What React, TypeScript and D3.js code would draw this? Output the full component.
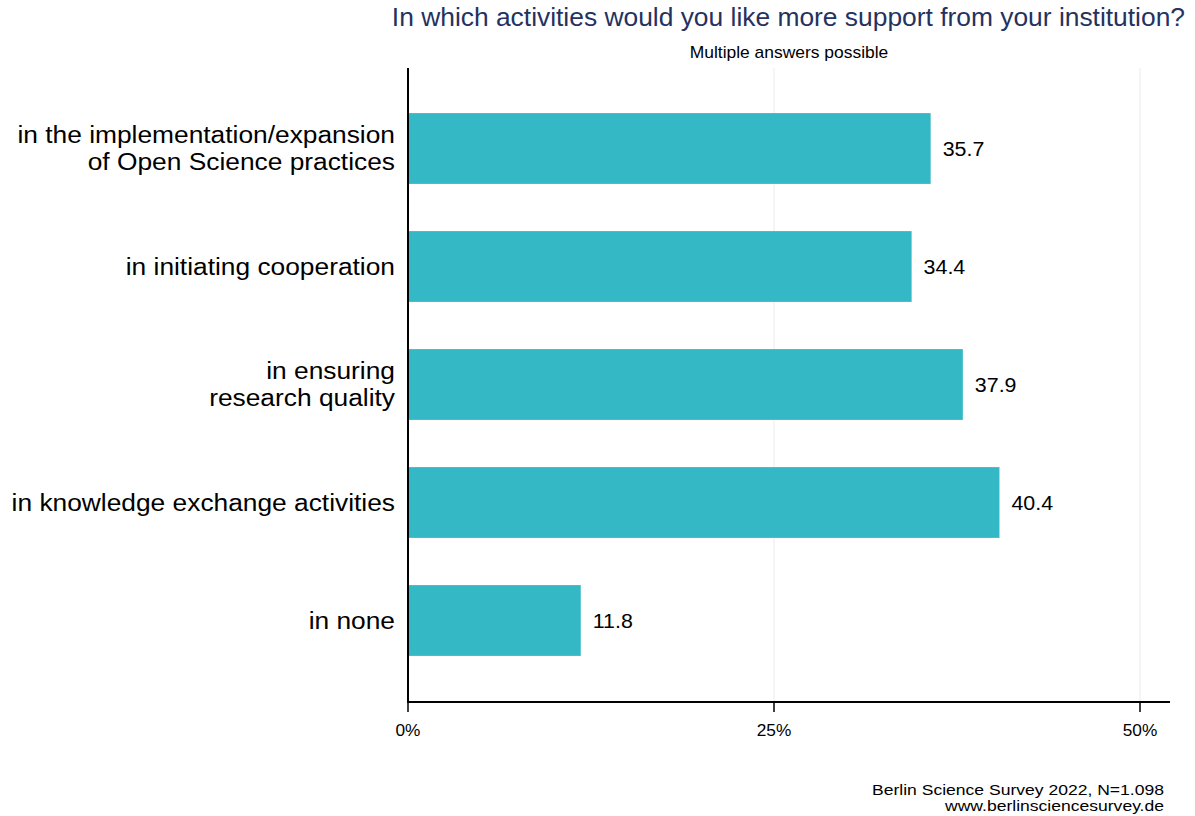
import React from "react";
import * as d3 from "d3";

const categories: string[][] = [
  ["in the implementation/expansion", "of Open Science practices"],
  ["in initiating cooperation"],
  ["in ensuring", "research quality"],
  ["in knowledge exchange activities"],
  ["in none"],
];
const values: number[] = [35.7, 34.4, 37.9, 40.4, 11.8];
const xTicks: number[] = [0, 25, 50];
const title = "In which activities would you like more support from your institution?";
const subtitle = "Multiple answers possible";
const caption = ["Berlin Science Survey 2022, N=1.098", "www.berlinsciencesurvey.de"];

const W = 1195;
const H = 816;
const FONT = "'Liberation Sans', Arial, Helvetica, sans-serif";

type TProps = {
  x: number;
  y: number;
  size: number;
  sx: number;
  anchor?: "start" | "middle" | "end";
  fill?: string;
  dy?: string;
  children: React.ReactNode;
};

function T({ x, y, size, sx, anchor = "start", fill = "#000", dy, children }: TProps) {
  return (
    <text
      transform={`translate(${x},${y}) scale(${sx},1)`}
      textAnchor={anchor}
      fontSize={size}
      fill={fill}
      dy={dy}
    >
      {children}
    </text>
  );
}

export default function App() {
  const x = d3.scaleLinear().domain([0, 50]).range([408, 1140]);
  const idx = categories.map((_, i) => String(i));
  const y = d3.scaleBand<string>().domain(idx).range([89.5, 679.5]).paddingInner(0.4).paddingOuter(0.2);
  const axisY = 702;
  return (
    <svg width={W} height={H} style={{ position: "absolute", left: 0, top: 0, fontFamily: FONT }}>
      <rect x={0} y={0} width={W} height={H} fill="#fff" />
      {xTicks.slice(1).map((t) => (
        <line key={"g" + t} x1={x(t)} x2={x(t)} y1={68} y2={axisY} stroke="#ebebeb" strokeWidth={1} />
      ))}
      {values.map((v, i) => {
        const cy = (y(String(i)) as number) + y.bandwidth() / 2;
        const n = categories[i].length;
        const lh = 27;
        return (
          <g key={i}>
            <rect x={x(0)} y={y(String(i))} width={x(v) - x(0)} height={y.bandwidth()} fill="#35b8c6" />
            <T x={x(v) + 12} y={cy} dy="0.35em" size={20} sx={1.07}>
              {v.toFixed(1)}
            </T>
            {categories[i].map((line, j) => (
              <T key={j} x={395} y={cy + (j - (n - 1) / 2) * lh} dy="0.34em" anchor="end" size={24.5} sx={1.075}>
                {line}
              </T>
            ))}
          </g>
        );
      })}
      <line x1={408} x2={408} y1={68} y2={axisY} stroke="#000" strokeWidth={2} />
      <line x1={407} x2={1170} y1={axisY} y2={axisY} stroke="#000" strokeWidth={2} />
      {xTicks.map((t) => (
        <g key={"t" + t}>
          <line x1={x(t)} x2={x(t)} y1={axisY} y2={axisY + 10} stroke="#000" strokeWidth={1.5} />
          <T x={x(t)} y={axisY + 34} anchor="middle" size={16} sx={1.08}>
            {t + "%"}
          </T>
        </g>
      ))}
      <T x={1185} y={26} anchor="end" size={25} sx={1.056} fill="#24325f">
        {title}
      </T>
      <T x={789} y={58} anchor="middle" size={16} sx={1.09}>
        {subtitle}
      </T>
      <T x={1164} y={795} anchor="end" size={15} sx={1.17}>
        {caption[0]}
      </T>
      <T x={1164} y={811} anchor="end" size={15} sx={1.17}>
        {caption[1]}
      </T>
    </svg>
  );
}
